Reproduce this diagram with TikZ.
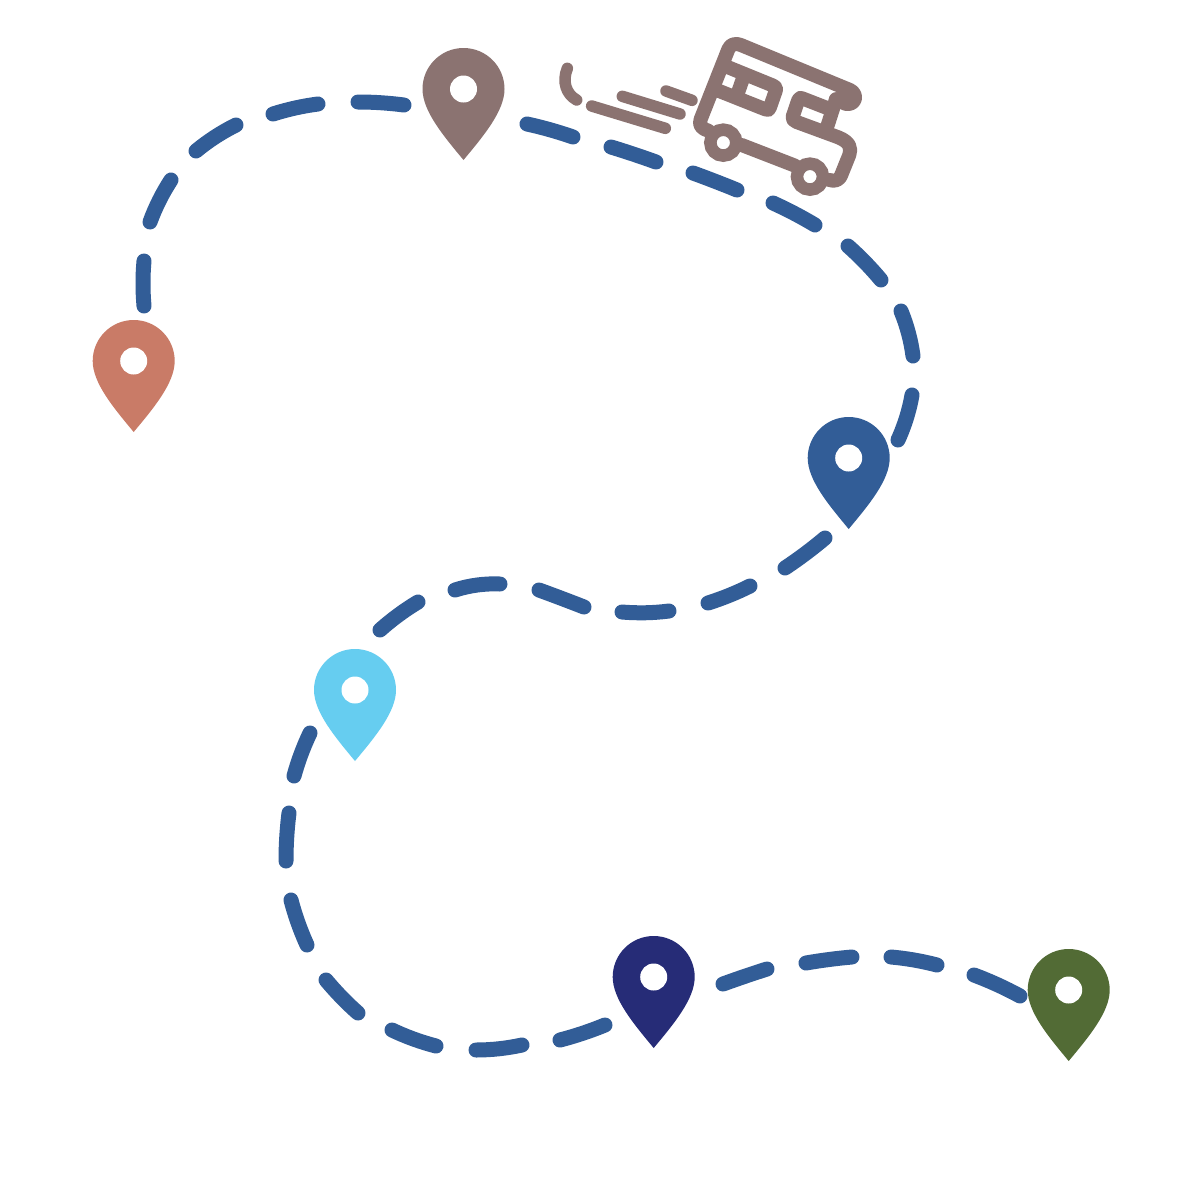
\documentclass[tikz,border=0pt]{standalone}
\usetikzlibrary{calc}
\definecolor{route}{HTML}{325D97}
\definecolor{rvcol}{HTML}{8B7371}
\definecolor{pinA}{HTML}{C97B67}
\definecolor{pinC}{HTML}{66CDF0}
\definecolor{pinD}{HTML}{262C77}
\definecolor{pinE}{HTML}{526B35}
\newcommand{\mappin}[3]{%
  \fill[#3] (#1-41,#2) arc[start angle=180,end angle=360,radius=41]
    .. controls (#1+41,#2+22) and (#1+20,#2+47) .. (#1,#2+71)
    .. controls (#1-20,#2+47) and (#1-41,#2+22) .. cycle;
  \fill[white] (#1,#2) circle[radius=13.5];}
\newcommand{\dashseg}[3]{\draw[routedash] (#1) .. controls ($(#1)!0.667!(#2)$) and ($(#3)!0.667!(#2)$) .. (#3);}
\begin{document}
\begin{tikzpicture}[x=1pt,y=-1pt,
  routedash/.style={route,line width=15pt,line cap=round},
  rvline/.style={rvcol,line width=14pt,line cap=round,line join=round}]
\useasboundingbox (0,0) rectangle (1200,1200);
\fill[white] (0,0) rectangle (1200,1200);
% route
\dashseg{144,306}{142,283}{144,261}
\dashseg{150,222}{158,200}{171,180}
\dashseg{196,151}{214,136}{236,125}
\dashseg{273,114}{295,107}{318,104}
\dashseg{358,102}{381,102}{404,105}
\dashseg{527,124}{550,129}{573,137}
\dashseg{611,147}{634,154}{656,162}
\dashseg{693,173}{715,181}{737,190}
\dashseg{773,203}{795,213}{815,225}
\dashseg{848,246}{866,262}{881,280}
\dashseg{901,311}{910,333}{913,356}
\dashseg{912,395}{908,418}{898,440}
\dashseg{825,538}{806,554}{785,568}
\dashseg{750,586}{730,596}{708,603}
\dashseg{669,611}{646,614}{622,612}
\dashseg{584,607}{561,598}{539,590}
\dashseg{500,584}{477,583}{455,590}
\dashseg{418,602}{398,614}{380,630}
\dashseg{310,733}{300,754}{294,776}
\dashseg{289,813}{286,837}{286,861}
\dashseg{291,900}{297,923}{307,945}
\dashseg{326,980}{341,998}{358,1013}
\dashseg{392,1030}{413,1040}{436,1046}
\dashseg{476,1050}{499,1050}{522,1045}
\dashseg{560,1040}{583,1034}{605,1025}
\dashseg{723,984}{745,976}{767,969}
\dashseg{806,963}{829,959}{852,957}
\dashseg{891,957}{914,959}{937,965}
\dashseg{974,975}{998,984}{1020,996}
% pins
\mappin{133.7}{361}{pinA}
\mappin{463.5}{89}{rvcol}
\mappin{848.7}{458}{route}
\mappin{355}{690}{pinC}
\mappin{653.7}{977}{pinD}
\mappin{1068.7}{990}{pinE}
% camper van, drawn in the coordinates of a 3x crop at (540,20)
\begin{scope}[shift={(540,20)},x=0.3333pt,y=-0.3333pt]
  % roof and rear wall
  \draw[rvline] (505,332) .. controls (483,325) and (476,315) .. (482,298)
     -- (565,88) .. controls (572,72) and (585,68) .. (605,76)
     -- (930,210) .. controls (955,222) and (948,256) .. (918,252) -- (888,238);
  % window block
  \draw[rvline] (560,140) -- (695,195) .. controls (710,201) and (710,206) .. (706,216)
     -- (690,262) .. controls (688,270) and (684,272) .. (676,268) -- (530,210);
  \draw[rvline] (608,178) -- (594,218);
  % second window and cab
  \draw[rvline] (888,238) -- (857,335);
  \draw[rvline] (869,267) -- (797,239) .. controls (780,232) and (778,232) .. (775,240)
     -- (758,290) .. controls (756,298) and (762,302) .. (770,306) -- (895,352)
     .. controls (930,366) and (935,385) .. (928,405)
     -- (905,462) .. controls (898,482) and (885,485) .. (868,480);
  % chassis
  \draw[rvline] (605,375) -- (765,437);
  % wheels
  \draw[rvcol,line width=12.5pt] (550,368) circle[radius=39];
  \draw[rvcol,line width=12.5pt] (810,470) circle[radius=39];
  % speed lines
  \draw[rvline,line width=11.5pt] (155,258) -- (376,325);
  \draw[rvline,line width=11.5pt] (247,229) -- (420,282);
  \draw[rvline,line width=11.5pt] (378,213) -- (456,241);
  \draw[rvline,line width=11.5pt] (82,145) .. controls (66,185) and (78,222) .. (110,240);
\end{scope}
\end{tikzpicture}
\end{document}
